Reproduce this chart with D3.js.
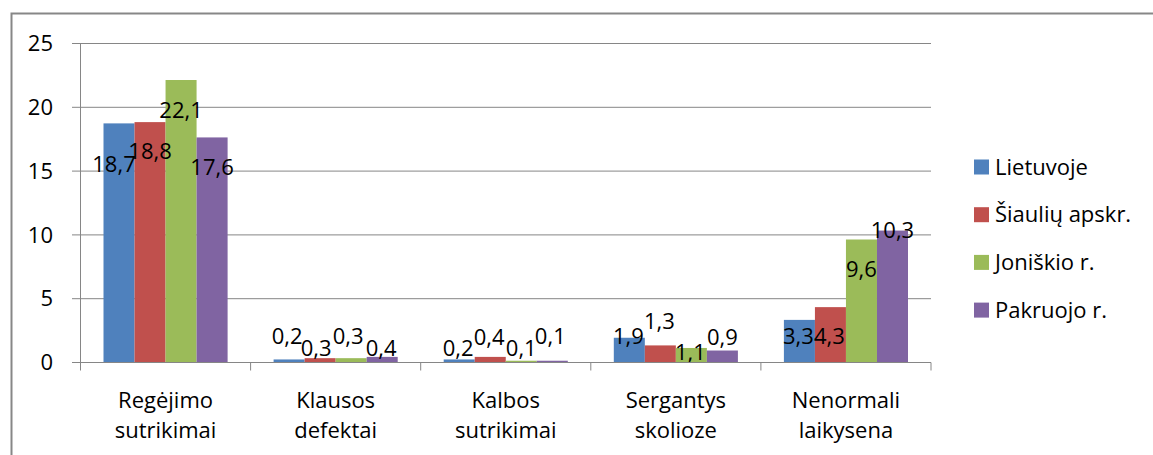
<!DOCTYPE html>
<html>
<head>
<meta charset="utf-8">
<script src="https://cdn.jsdelivr.net/npm/d3@7"></script>
<style>
  html, body { margin: 0; padding: 0; background: #fff; }
  svg { display: block; font-family: "Open Sans", "Noto Sans", sans-serif; }
</style>
</head>
<body>
<svg id="chart" width="1153" height="455"></svg>
<script>
// ---- data ----
const categories = [
  ["Regėjimo", "sutrikimai"],
  ["Klausos", "defektai"],
  ["Kalbos", "sutrikimai"],
  ["Sergantys", "skolioze"],
  ["Nenormali", "laikysena"]
];
const seriesNames = ["Lietuvoje", "Šiaulių apskr.", "Joniškio r.", "Pakruojo r."];
const lietuvoje = [18.7, 0.2, 0.2, 1.9, 3.3];
const siauliuApskr = [18.8, 0.3, 0.4, 1.3, 4.3];
const joniskioR = [22.1, 0.3, 0.1, 1.1, 9.6];
const pakruojoR = [17.6, 0.4, 0.1, 0.9, 10.3];
const yTicks = [0, 5, 10, 15, 20, 25];

// ---- style / layout (not data) ----
const colors = ["#4F81BD", "#C0504D", "#9BBB59", "#8064A2"];
// label placement shifts (px) relative to each bar's top-centre, as laid out in the original
const labelShift = [
  [[-5, 41], [0, 29], [0, 30], [0, 30]],
  [[-2, -23], [-4, -10], [-3, -22], [-1, -9]],
  [[-1, -11], [-1, -20], [0, -12], [-2, -24]],
  [[-1, -1], [-1, -24], [-1, 4], [0, -13]],
  [[-1, 16], [-1, 29], [0, 30], [0, 0]]
];

const values = [lietuvoje, siauliuApskr, joniskioR, pakruojoR];
const catKeys = categories.map(c => c.join(" "));

(function draw() {
const svg = d3.select("#chart");
const plotLeft = 80.5, plotRight = 931, plotTop = 43, plotBottom = 362;
const gridColor = "#868686";
const fontSize = 22;

// outer frame
svg.append("rect")
  .attr("x", 11.5).attr("y", 13.5)
  .attr("width", 1200).attr("height", 600)
  .attr("fill", "none").attr("stroke", "#878787").attr("stroke-width", 2);

const x0 = d3.scaleBand().domain(catKeys).range([plotLeft, plotRight]).padding(0);
const bw = x0.bandwidth();
const innerPad = 23;
const x1 = d3.scaleBand().domain(seriesNames).range([innerPad, bw - innerPad]).padding(0);
const y = d3.scaleLinear().domain([0, 25]).range([plotBottom, plotTop]);

// gridlines + y axis
const yAxis = d3.axisLeft(y).tickValues(yTicks).tickSize(-(plotRight - 72)).tickPadding(0).tickFormat(d3.format("d"));
const gy = svg.append("g").attr("transform", `translate(72,0)`).call(yAxis);
gy.select(".domain").remove();
gy.selectAll(".tick line").attr("stroke", gridColor).attr("stroke-width", 1);
gy.selectAll(".tick text")
  .attr("x", -19).attr("dy", "0.35em")
  .attr("text-anchor", "end")
  .attr("font-size", fontSize).attr("fill", "#000")
  .attr("font-family", "\"Open Sans\", sans-serif");

// vertical axis line
svg.append("line")
  .attr("x1", plotLeft).attr("x2", plotLeft).attr("y1", plotTop).attr("y2", plotBottom + 0.5)
  .attr("stroke", gridColor).attr("stroke-width", 1);

// bars
const groups = svg.append("g").selectAll("g")
  .data(catKeys)
  .join("g")
  .attr("transform", d => `translate(${x0(d)},0)`);

groups.each(function(cat, ci) {
  const g = d3.select(this);
  seriesNames.forEach((s, si) => {
    const v = values[si][ci];
    g.append("rect")
      .attr("x", x1(s))
      .attr("y", y(v))
      .attr("width", x1.bandwidth())
      .attr("height", y(0) - y(v))
      .attr("fill", colors[si]);
  });
});

// x axis line & category ticks
const xAxisG = svg.append("g").attr("transform", `translate(0,${plotBottom + 0.5})`);
xAxisG.append("line").attr("x1", 72).attr("x2", plotRight).attr("stroke", gridColor);
const boundaries = catKeys.map(k => x0(k)).concat([plotRight]);
xAxisG.selectAll("line.tk").data(boundaries).join("line")
  .attr("class", "tk")
  .attr("x1", d => d).attr("x2", d => d)
  .attr("y1", 0).attr("y2", 8)
  .attr("stroke", gridColor);

// category labels
groups.each(function(cat, ci) {
  const t = d3.select(this).append("text")
    .attr("text-anchor", "middle")
    .attr("font-size", fontSize)
    .attr("fill", "#000");
  categories[ci].forEach((line, li) => {
    t.append("tspan").attr("x", bw / 2).attr("y", 408 + li * 30).text(line);
  });
});

// data labels
const fmt = v => String(v).replace(".", ",");
groups.each(function(cat, ci) {
  const g = d3.select(this);
  seriesNames.forEach((s, si) => {
    const v = values[si][ci];
    const sh = labelShift[ci][si];
    g.append("text")
      .attr("x", x1(s) + x1.bandwidth() / 2 + sh[0])
      .attr("y", y(v) + sh[1])
      .attr("dy", "0.35em")
      .attr("text-anchor", "middle")
      .attr("font-size", fontSize)
      .attr("fill", "#000")
      .text(fmt(v));
  });
});

// legend
const legend = svg.append("g").attr("transform", "translate(974,167)");
seriesNames.forEach((s, i) => {
  const row = legend.append("g").attr("transform", `translate(0,${i * 47.7})`);
  row.append("rect").attr("x", 0).attr("y", -7.5).attr("width", 15).attr("height", 15).attr("fill", colors[i]);
  row.append("text").attr("x", 21).attr("y", 0).attr("dy", "0.35em")
    .attr("font-size", fontSize).attr("fill", "#000").text(s);
});
})();
</script>
</body>
</html>
